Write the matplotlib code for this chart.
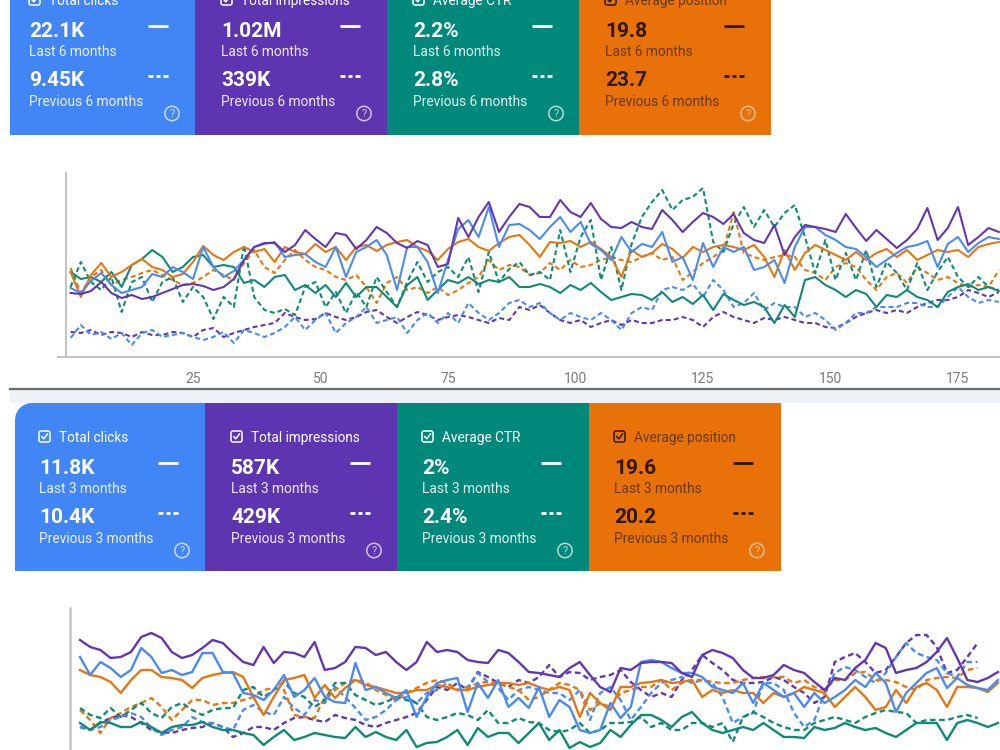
import numpy as np
import matplotlib.pyplot as plt
from matplotlib.patches import Rectangle, Circle, FancyBboxPatch, Polygon

plt.rcParams['font.family'] = ['Roboto', 'DejaVu Sans']

W, H = 1000, 750

# ---- card texts ----
card_titles = ['Total clicks', 'Total impressions', 'Average CTR', 'Average position']
top_current = ['22.1K', '1.02M', '2.2%', '19.8']
top_previous = ['9.45K', '339K', '2.8%', '23.7']
bottom_current = ['11.8K', '587K', '2%', '19.6']
bottom_previous = ['10.4K', '429K', '2.4%', '20.2']
card_colors = ['#4285f4', '#5e35b1', '#00897b', '#e8710a']

# ---- 6 month comparison (every second day) ----
top_days = np.arange(1, 184, 2)
top_ticks = [25, 50, 75, 100, 125, 150, 175]

clicks_6m = [69, 64, 76, 84, 72, 64, 67, 70, 83, 80,
             90, 85, 78, 110, 90, 80, 86, 97, 110, 113,
             115, 100, 102, 103, 95, 90, 110, 80, 105, 110,
             117, 102, 67, 110, 110, 95, 64, 97, 128, 137,
             120, 150, 110, 132, 133, 127, 118, 130, 140, 125,
             135, 113, 107, 97, 120, 105, 113, 110, 125, 95,
             100, 77, 114, 90, 110, 105, 110, 87, 90, 97,
             74, 110, 130, 130, 122, 117, 110, 108, 100, 90,
             97, 104, 110, 112, 116, 90, 113, 120, 105, 114,
             120, 118]
impr_6m = [64, 63, 66, 75, 64, 59, 62, 58, 60, 64,
           68, 72, 73, 71, 67, 70, 78, 97, 110, 114,
           114, 105, 112, 127, 118, 110, 124, 122, 108, 117,
           130, 124, 114, 109, 116, 112, 90, 93, 139, 120,
           140, 155, 125, 140, 153, 150, 140, 140, 157, 145,
           140, 154, 138, 130, 129, 135, 130, 128, 147, 137,
           125, 135, 144, 140, 133, 143, 124, 117, 114, 132,
           102, 120, 132, 130, 128, 125, 143, 129, 116, 127,
           118, 109, 117, 128, 149, 117, 129, 150, 112, 120,
           129, 125]
ctr_6m = [85, 78, 80, 75, 85, 70, 92, 98, 107, 100,
          85, 90, 100, 102, 90, 92, 90, 74, 77, 70,
          80, 82, 67, 72, 64, 72, 60, 74, 60, 70,
          70, 60, 50, 72, 80, 57, 67, 77, 74, 80,
          73, 77, 75, 80, 70, 70, 73, 70, 64, 72,
          67, 74, 65, 57, 60, 63, 62, 57, 65, 55,
          60, 53, 62, 47, 63, 57, 52, 55, 50, 34,
          52, 40, 77, 80, 72, 67, 60, 67, 63, 50,
          62, 60, 67, 60, 57, 50, 65, 70, 73, 67,
          70, 66]
pos_6m = [85, 60, 82, 94, 80, 85, 92, 98, 90, 87,
          80, 83, 95, 111, 102, 97, 105, 110, 105, 108,
          95, 110, 105, 103, 113, 105, 110, 97, 110, 112,
          106, 112, 115, 117, 110, 106, 97, 108, 115, 118,
          110, 106, 114, 120, 122, 112, 100, 115, 114, 116,
          110, 115, 108, 100, 80, 107, 100, 104, 113, 108,
          99, 110, 105, 110, 112, 110, 107, 112, 100, 80,
          107, 87, 104, 112, 107, 102, 97, 105, 97, 104,
          108, 100, 107, 97, 102, 107, 105, 107, 100, 110,
          113, 115]
clicks_prev6 = [19, 32, 22, 25, 18, 24, 12, 24, 27, 20,
                22, 24, 20, 17, 20, 25, 14, 27, 24, 20,
                24, 30, 40, 27, 37, 44, 24, 34, 40, 50,
                34, 37, 40, 24, 37, 44, 34, 44, 34, 54,
                44, 37, 44, 54, 57, 50, 54, 44, 37, 44,
                40, 37, 44, 37, 27, 44, 50, 47, 67, 70,
                67, 73, 60, 77, 67, 50, 54, 64, 47, 54,
                50, 50, 40, 44, 37, 27, 34, 44, 44, 50,
                50, 50, 54, 54, 50, 50, 60, 70, 60, 54,
                57, 55]
impr_prev6 = [25, 24, 27, 22, 25, 24, 20, 25, 22, 22,
              25, 24, 20, 27, 29, 20, 24, 27, 30, 32,
              34, 44, 40, 37, 38, 44, 40, 37, 40, 45,
              47, 40, 34, 40, 45, 42, 37, 40, 42, 40,
              37, 34, 39, 37, 50, 47, 52, 44, 37, 34,
              37, 30, 34, 37, 32, 37, 34, 34, 37, 37,
              40, 37, 30, 40, 45, 40, 37, 34, 39, 37,
              40, 37, 34, 34, 30, 29, 34, 40, 44, 47,
              44, 47, 44, 50, 54, 57, 57, 60, 67, 64,
              60, 65]
ctr_prev6 = [70, 95, 75, 67, 80, 45, 75, 80, 55, 75,
             80, 55, 70, 60, 38, 60, 50, 112, 60, 47,
             44, 48, 42, 70, 75, 50, 65, 44, 65, 50,
             80, 65, 50, 75, 95, 75, 85, 90, 80, 100,
             65, 105, 75, 88, 95, 82, 85, 77, 127, 85,
             120, 137, 77, 110, 67, 113, 140, 155, 167, 147,
             157, 160, 169, 115, 105, 133, 150, 130, 147, 130,
             144, 152, 120, 84, 117, 77, 104, 77, 107, 70,
             95, 84, 67, 94, 67, 85, 100, 80, 70, 80,
             70, 67]
pos_prev6 = [89, 64, 80, 87, 72, 77, 80, 84, 87, 82,
             77, 72, 74, 80, 87, 82, 77, 94, 107, 90,
             84, 97, 107, 97, 90, 87, 80, 77, 82, 70,
             54, 74, 80, 67, 70, 64, 70, 62, 67, 74,
             80, 97, 87, 92, 90, 82, 84, 94, 87, 97,
             90, 92, 97, 100, 97, 95, 100, 104, 97, 100,
             77, 85, 94, 100, 107, 145, 104, 100, 97, 100,
             102, 100, 87, 84, 77, 90, 94, 90, 77, 67,
             80, 84, 74, 90, 84, 77, 80, 74, 70, 72,
             70, 87]

# ---- 3 month comparison (daily) ----
bottom_days = np.arange(91)
bottom_days_prev = np.arange(89)

clicks_3m = [93, 75, 88, 82, 73, 80, 102, 93, 77, 80,
             75, 78, 97, 97, 78, 77, 57, 55, 50, 60,
             75, 53, 60, 72, 53, 48, 47, 87, 60, 63,
             57, 52, 60, 33, 53, 67, 70, 72, 38, 67,
             52, 70, 43, 52, 42, 63, 33, 50, 43, 20,
             17, 20, 47, 32, 43, 88, 90, 88, 82, 77,
             77, 73, 63, 60, 57, 67, 47, 67, 60, 53,
             57, 43, 57, 47, 53, 60, 70, 63, 77, 67,
             38, 57, 67, 77, 82, 62, 72, 65, 62, 60,
             70]
impr_3m = [110, 103, 100, 92, 93, 98, 113, 117, 112, 98,
           92, 95, 102, 110, 107, 97, 88, 85, 103, 87,
           98, 97, 93, 108, 80, 82, 88, 103, 102, 95,
           98, 88, 80, 88, 108, 98, 100, 98, 90, 88,
           87, 100, 97, 88, 78, 77, 75, 73, 82, 88,
           75, 63, 58, 82, 80, 87, 88, 88, 87, 77,
           73, 95, 100, 97, 92, 80, 72, 72, 75, 85,
           80, 77, 68, 60, 72, 70, 82, 90, 107, 102,
           77, 80, 82, 88, 98, 112, 92, 70, 68, 72,
           78]
ctr_3m = [27, 20, 28, 27, 23, 23, 28, 23, 17, 23,
          25, 25, 28, 23, 20, 20, 17, 15, 5, 13,
          20, 10, 13, 17, 15, 13, 12, 23, 13, 18,
          13, 10, 20, 3, 7, 8, 13, 20, 5, 22,
          13, 17, 17, 7, 17, 27, 10, 20, 2, 8,
          3, 7, 20, 13, 25, 35, 35, 30, 23, 33,
          38, 27, 20, 17, 20, 23, 20, 27, 20, 13,
          13, 12, 23, 20, 22, 27, 23, 20, 22, 17,
          13, 20, 27, 27, 27, 10, 27, 30, 27, 23,
          27]
pos_3m = [80, 75, 73, 68, 57, 70, 80, 80, 73, 72,
          70, 62, 72, 75, 77, 78, 73, 53, 35, 53,
          70, 72, 75, 52, 65, 52, 62, 70, 65, 63,
          60, 57, 57, 60, 60, 65, 63, 60, 60, 63,
          65, 67, 67, 65, 67, 63, 60, 63, 60, 33,
          57, 47, 40, 63, 63, 67, 68, 70, 67, 68,
          70, 53, 60, 57, 60, 57, 57, 47, 57, 53,
          57, 63, 60, 57, 43, 53, 63, 53, 40, 43,
          60, 47, 63, 67, 60, 43, 63, 63, 62, 58,
          67]
clicks_prev3 = [23, 20, 23, 30, 33, 37, 33, 22, 15, 20,
                23, 33, 28, 27, 23, 20, 40, 45, 38, 35,
                53, 42, 35, 50, 47, 63, 53, 42, 30, 33,
                40, 50, 53, 47, 57, 60, 67, 60, 63, 77,
                68, 62, 50, 60, 63, 60, 57, 57, 50, 60,
                30, 57, 63, 50, 30, 43, 57, 67, 70, 73,
                67, 70, 67, 53, 27, 33, 37, 67, 67, 60,
                37, 23, 30, 57, 77, 83, 80, 73, 67, 77,
                93, 107, 97, 93, 90, 77, 73, 88, 88]
impr_prev3 = [23, 20, 27, 32, 35, 33, 27, 20, 18, 17,
              20, 22, 23, 27, 23, 13, 17, 23, 23, 20,
              27, 32, 33, 30, 28, 35, 32, 30, 25, 23,
              27, 30, 33, 37, 50, 63, 60, 67, 60, 78,
              73, 67, 63, 70, 67, 73, 85, 73, 78, 77,
              70, 73, 75, 80, 68, 60, 53, 57, 53, 70,
              80, 95, 87, 80, 70, 67, 67, 68, 73, 70,
              63, 57, 47, 53, 88, 93, 97, 88, 77, 80,
              93, 107, 115, 115, 103, 77, 80, 93, 107]
ctr_prev3 = [42, 35, 32, 42, 33, 40, 47, 37, 32, 43,
             47, 40, 35, 40, 42, 42, 60, 63, 53, 60,
             68, 57, 53, 43, 50, 67, 67, 55, 50, 45,
             48, 53, 50, 47, 33, 30, 33, 37, 35, 30,
             40, 27, 27, 32, 28, 27, 20, 18, 20, 27,
             17, 20, 27, 27, 28, 33, 23, 27, 20, 20,
             27, 27, 23, 27, 8, 33, 38, 33, 27, 23,
             20, 20, 27, 30, 33, 30, 27, 33, 37, 40,
             38, 37, 27, 30, 30, 30, 33, 35, 32]
pos_prev3 = [40, 30, 17, 32, 37, 43, 47, 52, 43, 30,
             40, 50, 50, 45, 47, 47, 50, 53, 60, 62,
             60, 35, 33, 32, 53, 60, 67, 70, 68, 60,
             55, 50, 57, 62, 67, 70, 67, 60, 62, 67,
             68, 67, 63, 60, 50, 53, 60, 67, 65, 60,
             40, 47, 43, 57, 60, 63, 63, 70, 60, 67,
             70, 70, 68, 67, 67, 70, 72, 73, 73, 73,
             67, 70, 63, 60, 70, 70, 77, 78, 70, 70,
             68, 63, 60, 70, 72, 73, 72, 80, 82]


def px_rect(x0, y0, x1, y1):
    return [x0 / W, 1 - y1 / H, (x1 - x0) / W, (y1 - y0) / H]


def draw_cards(bg, edges, y_top, y_bot, text_x, title_base, current, previous,
               period, round_corner=False):
    for i in range(4):
        x0, x1 = edges[i], edges[i + 1]
        if round_corner and i == 0:
            r = 17
            ang = np.linspace(np.pi, 1.5 * np.pi, 12)
            arc = [(x0 + r + r * np.cos(a), y_top + r + r * np.sin(a)) for a in ang]
            pts = [(x0, y_bot)] + arc + [(x1, y_top), (x1, y_bot)]
            bg.add_patch(Polygon(pts, closed=True, color=card_colors[i], lw=0))
        else:
            bg.add_patch(Rectangle((x0, y_top), x1 - x0, y_bot - y_top,
                                   color=card_colors[i], lw=0))
        if i == 3:
            main_c, sub_c, help_c = '#2e1808', '#6a3a10', '#f7c08c'
        else:
            main_c, sub_c, help_c = 'white', (1, 1, 1, 0.88), (1, 1, 1, 0.7)
        tx = text_x[i]
        tb = title_base
        # checkbox
        bg.add_patch(FancyBboxPatch((tx, tb - 11), 11, 11,
                                    boxstyle='round,pad=0,rounding_size=2',
                                    fill=False, ec=main_c, lw=1.1))
        bg.plot([tx + 2.6, tx + 4.8, tx + 8.6], [tb - 5.6, tb - 3.2, tb - 8.2],
                color=main_c, lw=1.1, solid_capstyle='round')
        bg.text(tx + 20, tb, card_titles[i], color=sub_c if i == 3 else main_c,
                fontsize=9.8, va='baseline', ha='left')
        bg.text(tx, tb + 32, current[i], color=main_c, fontsize=15,
                fontweight='bold', va='baseline', ha='left')
        bg.text(tx, tb + 51, 'Last ' + period, color=sub_c, fontsize=9.9,
                va='baseline', ha='left')
        bg.text(tx, tb + 81, previous[i], color=main_c, fontsize=15,
                fontweight='bold', va='baseline', ha='left')
        bg.text(tx, tb + 101, 'Previous ' + period, color=sub_c, fontsize=9.9,
                va='baseline', ha='left')
        # legend marks
        dx = tx + 119
        bg.plot([dx, dx + 20], [tb + 20.5, tb + 20.5], color=main_c, lw=2,
                solid_capstyle='butt')
        for k in range(3):
            bg.plot([dx + k * 7.5, dx + k * 7.5 + 4.5], [tb + 70.5, tb + 70.5],
                    color=main_c, lw=2, solid_capstyle='butt')
        hx, hy = tx + 143, tb + 108.5
        bg.add_patch(Circle((hx, hy), 7.2, fill=False, ec=help_c, lw=1.1))
        bg.text(hx, hy + 0.5, '?', color=help_c, fontsize=8, ha='center', va='center')


fig = plt.figure(figsize=(10, 7.5), dpi=100)
fig.patch.set_facecolor('white')

bg = fig.add_axes([0, 0, 1, 1])
bg.set_xlim(0, W)
bg.set_ylim(H, 0)
bg.axis('off')

# top screenshot cards (titles cut by the top edge, as in the screenshot)
draw_cards(bg, [10, 195, 387, 579, 771], -12, 135, [29, 221, 413, 605], 5,
           top_current, top_previous, '6 months')

# divider between the two screenshots
bg.add_patch(Rectangle((10, 390), 990, 13, color='#eef1f7', lw=0))
bg.plot([10, 1000], [389, 389], color='#6b6b6b', lw=1.6)

# bottom screenshot cards
draw_cards(bg, [15, 205, 397, 589, 781], 403, 571, [39, 231, 422, 614], 442,
           bottom_current, bottom_previous, '3 months', round_corner=True)

# axis lines
bg.plot([66, 66], [173, 357], color='#c2c2c2', lw=1.4)
bg.plot([58, 1000], [357, 357], color='#c2c2c2', lw=1.4)
bg.plot([70, 70], [608, 750], color='#c6c6c6', lw=1.8)

series_colors = {'clicks': '#4a8af4', 'impr': '#6236b4', 'ctr': '#0f8a74', 'pos': '#e8760f'}

# ---- top chart ----
ax1 = fig.add_axes(px_rect(65.5, 173, 1000, 357))
ax1.patch.set_alpha(0)
ax1.set_xlim(0, (1000 - 65.5) / 5.1)
ax1.set_ylim(0, 184)
for s in ax1.spines.values():
    s.set_visible(False)
ax1.set_yticks([])
ax1.set_xticks(top_ticks)
ax1.tick_params(axis='x', length=0, pad=11, labelsize=10, labelcolor='#7a7a7a')

lw1 = 1.5
for vals, key in [(impr_prev6, 'impr'), (clicks_prev6, 'clicks'),
                  (pos_prev6, 'pos'), (ctr_prev6, 'ctr')]:
    ax1.plot(top_days, vals, color=series_colors[key], lw=lw1, dashes=(2.4, 1.5))
for vals, key in [(ctr_6m, 'ctr'), (pos_6m, 'pos'), (clicks_6m, 'clicks'),
                  (impr_6m, 'impr')]:
    ax1.plot(top_days, vals, color=series_colors[key], lw=lw1)

# ---- bottom chart ----
ax2 = fig.add_axes(px_rect(70, 608, 1000, 750))
ax2.patch.set_alpha(0)
ax2.set_xlim(-0.98, 90.2)
ax2.set_ylim(0, 142)
ax2.axis('off')

lw2 = 1.7
for vals, key in [(impr_prev3, 'impr'), (clicks_prev3, 'clicks'),
                  (pos_prev3, 'pos'), (ctr_prev3, 'ctr')]:
    ax2.plot(bottom_days_prev, vals, color=series_colors[key], lw=lw2,
             dashes=(2.4, 1.5))
for vals, key in [(ctr_3m, 'ctr'), (pos_3m, 'pos'), (clicks_3m, 'clicks'),
                  (impr_3m, 'impr')]:
    ax2.plot(bottom_days, vals, color=series_colors[key], lw=lw2)

fig.savefig('out.png', dpi=100, facecolor='white')
